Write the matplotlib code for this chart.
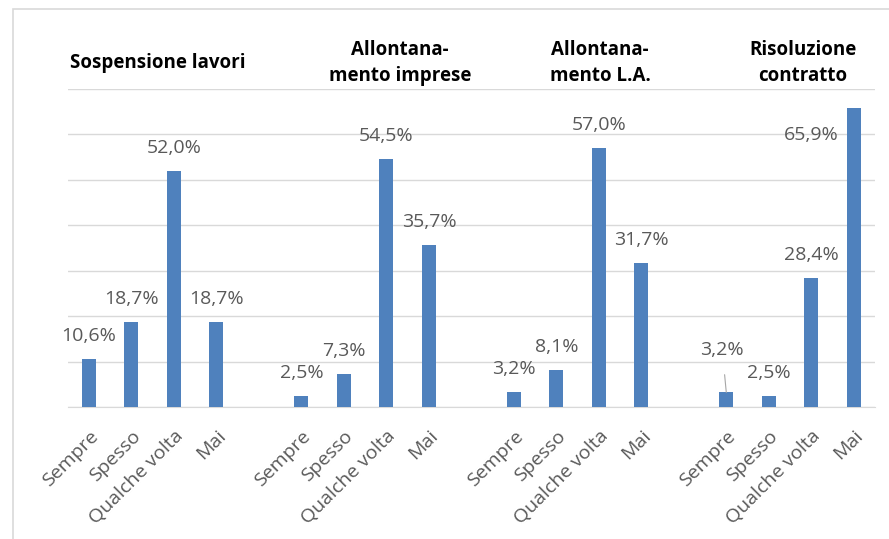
import matplotlib
matplotlib.use('Agg')
import matplotlib.pyplot as plt
import matplotlib.transforms as mtransforms
from matplotlib.patches import Rectangle

# answer categories (repeated in each group)
categories = ['Sempre', 'Spesso', 'Qualche volta', 'Mai']
group_titles = ['Sospensione lavori', 'Allontana-\nmento imprese',
                'Allontana-\nmento L.A.', 'Risoluzione\ncontratto']

# percentages per group
sospensione = [10.6, 18.7, 52.0, 18.7]
allont_imprese = [2.5, 7.3, 54.5, 35.7]
allont_la = [3.2, 8.1, 57.0, 31.7]
risoluzione = [3.2, 2.5, 28.4, 65.9]

groups = [sospensione, allont_imprese, allont_la, risoluzione]

bar_color = '#4F81BD'
grid_color = '#D9D9D9'
text_gray = '#595959'
font = 'Open Sans'

fig = plt.figure(figsize=(8.89, 5.39), dpi=100)
ax = fig.add_axes([67.75 / 889, 132 / 539, (875 - 67.75) / 889, (407 - 89) / 539])

# outer chart border (only top and left visible in the picture)
fig.patches.append(Rectangle((13 / 889, -0.1), 1.2, 1.1 - 9 / 539, transform=fig.transFigure,
                             fill=False, edgecolor=grid_color, lw=1.2))

xs, vals, labels = [], [], []
for g, data in enumerate(groups):
    for j, v in enumerate(data):
        xs.append(g * 5 + j)
        vals.append(v)
        labels.append(categories[j])

ax.bar(xs, vals, width=0.33, color=bar_color, zorder=3)

ax.set_xlim(-0.5, 18.5)
ax.set_ylim(0, 70)
ax.set_yticks(range(0, 71, 10))
ax.yaxis.grid(True, color=grid_color, lw=1)
ax.set_axisbelow(True)
ax.tick_params(axis='y', left=False, labelleft=False)
ax.tick_params(axis='x', length=0, pad=0)
for s in ['top', 'right', 'left']:
    ax.spines[s].set_visible(False)
ax.spines['bottom'].set_color(grid_color)

ax.set_xticks(xs)
ax.set_xticklabels(labels, rotation=45, ha='right', va='top', rotation_mode='anchor',
                   fontsize=14, color=text_gray, family=font)
shift = mtransforms.ScaledTranslation(0, -20 / 100, fig.dpi_scale_trans)
for lbl in ax.get_xticklabels():
    lbl.set_transform(lbl.get_transform() + shift)

# data labels; a few are moved like in the original
offsets = {(3, 0): (-4, 42), (3, 3): (-43, -27)}
for x, v in zip(xs, vals):
    key = (x // 5, x % 5)
    dx, dy = offsets.get(key, (0, 23))
    arrow = None
    if key == (3, 0):
        arrow = dict(arrowstyle='-', color='#A6A6A6', lw=0.8, shrinkA=9, shrinkB=0)
    ax.annotate(f'{v:.1f}%'.replace('.', ','), xy=(x, v), xytext=(dx, dy),
                textcoords='offset pixels', ha='center', va='center',
                fontsize=14, color=text_gray, family=font, arrowprops=arrow)

# group titles
title_x = [158, 400, 600, 803]
for tx, t in zip(title_x, group_titles):
    fig.text(tx / 889, 1 - 63 / 539, t, ha='center', va='center', fontsize=13.5,
             fontweight='bold', family=font, linespacing=1.45)

fig.savefig('out.png', dpi=100)
